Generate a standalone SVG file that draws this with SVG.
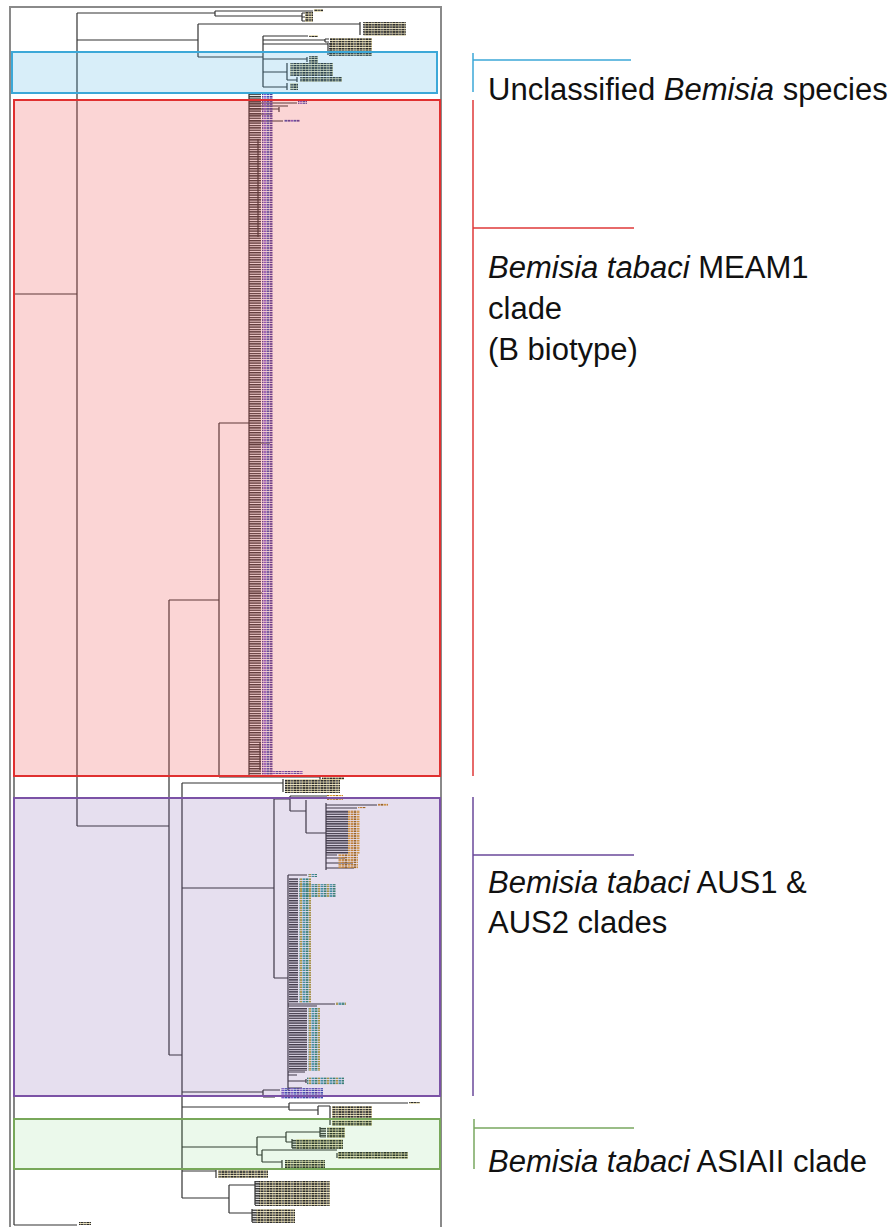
<svg xmlns="http://www.w3.org/2000/svg" width="893" height="1227" viewBox="0 0 893 1227">
<defs>
<style>
.br{fill:none;stroke:#333;stroke-width:1.2}
.lab{font-family:"Liberation Sans",Arial,sans-serif;font-size:31px;fill:#111}
.it{font-style:italic}
.bk{fill:none;stroke-width:1.5}
</style>
<pattern id="rows" width="4" height="2.4" patternUnits="userSpaceOnUse"><rect width="4" height="1.4" fill="#333"/></pattern>
<pattern id="lbM" width="9" height="2.4" patternUnits="userSpaceOnUse"><rect width="2.5" height="1.6" fill="#4b3c9a"/><rect x="3" width="2" height="1.6" fill="#7a5acd"/><rect x="5.5" width="3" height="1.6" fill="#3d4fb0"/></pattern>
<pattern id="lbU" width="9" height="2.4" patternUnits="userSpaceOnUse"><rect width="9" height="2" fill="#f3e3a0"/><rect width="2.5" height="1.6" fill="#333"/><rect x="3" width="2" height="1.6" fill="#555"/><rect x="5.5" width="3" height="1.6" fill="#2a2a2a"/></pattern>
<pattern id="lbO" width="9" height="2.4" patternUnits="userSpaceOnUse"><rect width="2.5" height="1.6" fill="#d08a20"/><rect x="3" width="2" height="1.6" fill="#a06a10"/><rect x="5.5" width="3" height="1.6" fill="#e0a030"/></pattern>
<pattern id="lbG" width="9" height="2.4" patternUnits="userSpaceOnUse"><rect width="2.5" height="1.6" fill="#2f8a6a"/><rect x="3" width="2" height="1.6" fill="#b0a030"/><rect x="5.5" width="3" height="1.6" fill="#3a9aa0"/></pattern>
</defs>
<rect width="893" height="1227" fill="#fff"/>
<rect id="frame" x="10" y="7" width="431" height="1240" fill="none" stroke="#8a8a8a" stroke-width="2"/>

<g id="connectors">
<path class="br" d="M14,294 V1225 M14,294 H77 M14,1225 H77
M77,13 V826
M77,13 H215 M215,11 V16 M215,11 H313 M215,16 H302 M302,13 V21 M302,13 H305 M302,17 H305 M302,21 H305
M77,40 H198 M198,24 V57 M198,24 H360 M360,22 V35
M198,57 H263 M263,36 V87
M263,36 H308
M263,40 H325 M325,39 V42 M325,39 H329 M325,42 H329
M263,44 H328 M328,43 V55
M263,59 H307 M307,57 V62
M263,72 H287 M287,63 V80 M287,80 H297 M297,77 V82
M263,87 H287 M287,83 V90
M77,826 H169
M169,600 V1055 M169,600 H219 M169,1055 H182
M219,423 V777 M219,423 H249 M219,777 H320 M320,775 V780
M249,93 V775
M249,103 H297 M249,106 H288 M249,109 H279 M279,107 V112 M249,114 H272 M249,121 H283 M258,139 V237 M249,443 H270 M249,593 H262 M260,742 V770
M182,783 V1198
M182,783 H283 M283,779 V792
M182,888 H274 M274,799 V978 M274,799 H290 M290,796 V811 M290,796 H327 M290,811 H306 M306,800 V833 M306,833 H326 M326,803 V870 M326,805 H377 M326,808 H357 M326,855 H337 M326,858 H345 M326,863 H353 M326,868 H354
M274,978 H288 M288,875 V1090 M288,875 H307 M288,1004 H335 M288,1006 H317 M288,1072 H305 M288,1075 H297 M288,1081 H306 M306,1079 V1083 M288,1088 H302
M182,1092 H263 M263,1090 V1097 M263,1090 H280 M263,1097 H275
M182,1107 H289 M289,1103 V1110 M289,1103 H408 M289,1110 H318 M318,1106 V1115 M318,1106 H330 M330,1106 V1125
M182,1147 H257 M257,1137 V1155 M257,1137 H286 M286,1132 V1142 M286,1132 H320 M320,1127 V1137 M286,1142 H292 M292,1139 V1148
M257,1155 H262 M262,1150 V1162 M262,1150 H337 M337,1153 V1158 M262,1162 H282 M282,1160 V1168
M182,1171 H216 M216,1169 V1178
M182,1198 H229 M229,1185 V1213 M229,1185 H255 M255,1181 V1205 M229,1213 H252 M252,1209 V1222"/>
<rect x="363" y="22" width="42" height="14" fill="url(#rows)"/>
<rect x="329" y="43" width="3" height="13" fill="url(#rows)"/>
<rect x="249" y="93" width="12" height="682" fill="url(#rows)"/>
<rect x="326" y="810" width="22" height="44" fill="url(#rows)"/>
<rect x="289" y="878" width="9" height="125" fill="url(#rows)"/>
<rect x="289" y="1008" width="18" height="63" fill="url(#rows)"/>
<rect x="320" y="1127" width="6" height="11" fill="url(#rows)"/>
<rect x="292" y="1139" width="4" height="10" fill="url(#rows)"/>
<rect x="255" y="1181" width="4" height="25" fill="url(#rows)"/>
<rect x="252" y="1209" width="4" height="14" fill="url(#rows)"/>
</g>

<g id="leaf-labels">
<rect x="314" y="9" width="9" height="3" fill="url(#lbU)"/>
<rect x="305" y="12" width="8" height="10" fill="url(#lbU)"/>
<rect x="364" y="22" width="42" height="14" fill="url(#lbU)" opacity="0.8"/>
<rect x="309" y="35" width="9" height="2" fill="url(#lbU)"/>
<rect x="330" y="38" width="42" height="18" fill="url(#lbU)"/>
<rect x="309" y="56" width="9" height="7" fill="url(#lbU)"/>
<rect x="290" y="63" width="43" height="13" fill="url(#lbU)"/>
<rect x="300" y="77" width="42" height="5" fill="url(#lbU)"/>
<rect x="290" y="83" width="8" height="7" fill="url(#lbU)"/>
<rect x="262" y="93" width="11" height="682" fill="url(#lbM)"/>
<rect x="298" y="101" width="9" height="3" fill="url(#lbM)"/>
<rect x="284" y="119" width="16" height="3" fill="url(#lbM)"/>
<rect x="263" y="771" width="40" height="3" fill="url(#lbM)"/>
<rect x="322" y="775" width="22" height="5" fill="url(#lbU)"/>
<rect x="285" y="779" width="55" height="14" fill="url(#lbU)"/>
<rect x="327" y="795" width="16" height="5" fill="url(#lbO)"/>
<rect x="378" y="803" width="10" height="3" fill="url(#lbO)"/>
<rect x="358" y="807" width="8" height="2" fill="url(#lbO)"/>
<rect x="348" y="810" width="12" height="44" fill="url(#lbO)"/>
<rect x="338" y="854" width="20" height="15" fill="url(#lbO)"/>
<rect x="308" y="874" width="9" height="3" fill="url(#lbG)"/>
<rect x="299" y="878" width="12" height="125" fill="url(#lbG)"/>
<rect x="299" y="884" width="37" height="13" fill="url(#lbG)"/>
<rect x="336" y="1002" width="10" height="3" fill="url(#lbG)"/>
<rect x="308" y="1008" width="12" height="63" fill="url(#lbG)"/>
<rect x="307" y="1077" width="37" height="8" fill="url(#lbG)"/>
<rect x="281" y="1088" width="42" height="11" fill="url(#lbM)"/>
<rect x="409" y="1102" width="11" height="2" fill="url(#lbU)"/>
<rect x="332" y="1106" width="40" height="20" fill="url(#lbU)"/>
<rect x="327" y="1127" width="18" height="11" fill="url(#lbU)"/>
<rect x="296" y="1139" width="47" height="10" fill="url(#lbU)"/>
<rect x="338" y="1152" width="70" height="7" fill="url(#lbU)"/>
<rect x="285" y="1160" width="40" height="8" fill="url(#lbU)"/>
<rect x="218" y="1169" width="50" height="9" fill="url(#lbU)"/>
<rect x="259" y="1181" width="71" height="25" fill="url(#lbU)"/>
<rect x="256" y="1209" width="39" height="14" fill="url(#lbU)"/>
<rect x="79" y="1222" width="12" height="3" fill="url(#lbU)"/>
</g>

<g id="clade-unclassified">
<rect x="12" y="52" width="425" height="41" fill="rgb(60,170,225)" fill-opacity="0.2" stroke="#3ca8d8" stroke-width="2"/>
<path class="bk" stroke="#3ca8d8" d="M473,53 V92 M473,60 H631"/>
<text class="lab" x="488" y="100">Unclassified <tspan class="it">Bemisia</tspan> species</text>
</g>

<g id="clade-meam1">
<rect x="14" y="100" width="426" height="676" fill="rgb(240,80,80)" fill-opacity="0.24" stroke="#e03030" stroke-width="2"/>
<path class="bk" stroke="#e03a3a" d="M473,100 V776 M473,228 H634"/>
<text class="lab" x="488" y="278"><tspan class="it">Bemisia tabaci</tspan> MEAM1</text>
<text class="lab" x="488" y="319">clade</text>
<text class="lab" x="488" y="360">(B biotype)</text>
</g>

<g id="clade-aus">
<rect x="14" y="798" width="426" height="298" fill="rgb(120,80,170)" fill-opacity="0.185" stroke="#7b52a6" stroke-width="2"/>
<path class="bk" stroke="#6b4a9a" d="M473,797 V1096 M473,855 H634"/>
<text class="lab" x="488" y="893"><tspan class="it">Bemisia tabaci</tspan> AUS1 &amp;</text>
<text class="lab" x="488" y="933">AUS2 clades</text>
</g>

<g id="clade-asiaii">
<rect x="14" y="1119" width="426" height="50" fill="rgb(60,200,60)" fill-opacity="0.1" stroke="#78a85a" stroke-width="2"/>
<path class="bk" stroke="#7aa860" d="M474,1119 V1169 M474,1128 H634"/>
<text class="lab" x="488" y="1172"><tspan class="it">Bemisia tabaci</tspan> ASIAII clade</text>
</g>
</svg>
